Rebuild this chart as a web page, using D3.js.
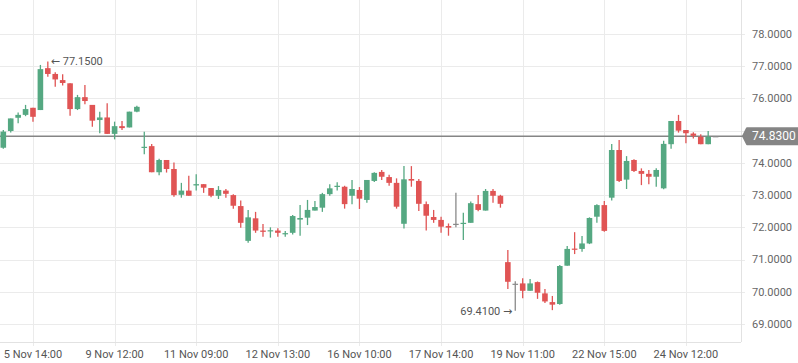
<!DOCTYPE html>
<html>
<head>
<meta charset="utf-8">
<script src="https://cdn.jsdelivr.net/npm/d3@7"></script>
<style>
  body { margin: 0; background: #fff; }
  svg { display: block; font-family: Roboto, "Open Sans", sans-serif; }
</style>
</head>
<body>
<div id="chart"></div>
<script>
// OHLC, une bougie par index
var opens = [74.47, 74.99, 75.40, 75.49, 75.71, 75.64, 76.94, 76.76, 76.57, 76.47,
  75.67, 76.04, 75.80, 75.33, 75.41, 74.90, 75.14, 75.10, 75.59, 74.48,
  74.52, 73.71, 74.09, 73.81, 73.01, 73.14, 73.30, 73.34, 73.22, 72.98,
  73.14, 73.00, 72.66, 71.58, 72.28, 71.90, 71.88, 71.90, 71.79, 71.83,
  72.24, 72.30, 72.52, 72.61, 73.03, 73.27, 73.26, 72.98, 73.16, 72.85,
  73.44, 73.72, 73.56, 73.38, 72.11, 73.50, 73.44, 72.72, 72.32, 72.23,
  72.04, 72.11, 72.12, 72.14, 72.72, 72.52, 73.13, 72.98, 70.92, 70.25,
  70.26, 70.03, 70.30, 69.95, 69.68, 69.62, 70.81, 71.34, 71.33, 71.50,
  72.33, 72.69, 72.92, 74.40, 73.48, 74.09, 73.75, 73.66, 73.57, 73.21,
  74.58, 75.30, 75.02, 74.91, 74.81, 74.58, 74.83]
var highs = [75.02, 75.38, 75.56, 75.80, 75.71, 77.04, 77.15, 76.81, 76.75, 76.47,
  76.11, 76.42, 75.80, 75.59, 75.85, 75.28, 75.30, 75.59, 75.77, 74.97,
  74.59, 74.13, 74.09, 74.01, 73.38, 73.60, 73.65, 73.34, 73.22, 73.28,
  73.19, 73.03, 72.83, 72.54, 72.48, 72.10, 72.00, 71.97, 71.89, 72.38,
  72.69, 72.85, 72.82, 73.07, 73.34, 73.40, 73.29, 73.47, 73.25, 73.47,
  73.71, 73.78, 73.63, 73.52, 73.90, 73.90, 73.50, 72.80, 72.54, 72.33,
  72.12, 73.07, 72.45, 72.80, 73.00, 73.19, 73.19, 73.01, 71.30, 70.33,
  70.42, 70.40, 70.32, 70.09, 69.87, 70.83, 71.42, 71.85, 71.73, 72.31,
  72.72, 72.82, 74.59, 74.71, 74.21, 74.11, 73.83, 73.78, 73.83, 74.69,
  75.30, 75.49, 75.02, 74.95, 74.89, 74.99, 74.83]
var lows = [74.44, 74.94, 75.23, 75.45, 75.28, 75.64, 76.67, 76.36, 76.40, 75.46,
  75.64, 75.82, 75.12, 74.92, 74.90, 74.73, 75.02, 75.10, 75.57, 74.27,
  73.71, 73.62, 73.70, 72.95, 72.92, 72.98, 73.14, 73.07, 72.93, 72.88,
  72.92, 72.58, 71.99, 71.52, 71.83, 71.71, 71.68, 71.71, 71.71, 71.78,
  71.74, 72.07, 72.52, 72.48, 72.98, 73.14, 72.58, 72.72, 72.57, 72.76,
  73.41, 73.47, 73.29, 72.58, 71.96, 73.26, 72.51, 71.90, 72.14, 71.83,
  71.74, 72.00, 71.61, 72.14, 72.50, 72.52, 72.76, 72.61, 70.09, 69.41,
  69.80, 70.03, 69.78, 69.65, 69.43, 69.60, 70.81, 71.17, 71.24, 71.48,
  72.14, 71.86, 72.83, 73.41, 73.19, 73.72, 73.31, 73.34, 73.26, 73.18,
  74.44, 74.94, 74.61, 74.76, 74.58, 74.58, 74.83]
var closes = [74.97, 75.38, 75.49, 75.67, 75.43, 76.91, 76.76, 76.59, 76.48, 75.67,
  76.04, 75.92, 75.31, 75.41, 74.90, 75.14, 75.08, 75.59, 75.74, 74.50,
  73.71, 74.09, 73.81, 73.00, 73.14, 72.98, 73.34, 73.23, 72.98, 73.16,
  73.04, 72.67, 72.14, 72.31, 71.90, 71.86, 71.91, 71.83, 71.82, 72.35,
  72.29, 72.54, 72.63, 73.03, 73.21, 73.29, 72.72, 73.19, 72.89, 73.47,
  73.69, 73.57, 73.38, 72.64, 73.49, 73.45, 72.73, 72.36, 72.23, 72.02,
  71.99, 72.11, 72.14, 72.75, 72.54, 73.13, 72.98, 72.73, 70.31, 70.25,
  70.03, 70.26, 69.97, 69.70, 69.60, 70.80, 71.33, 71.31, 71.50, 72.29,
  72.69, 71.89, 74.40, 73.44, 74.06, 73.75, 73.66, 73.57, 73.78, 74.59,
  75.30, 75.00, 74.92, 74.84, 74.58, 74.81, 74.83]

var tickIndex = [4, 15, 26, 37, 48, 59, 70, 81, 92]
var tickLabels = ['5 Nov 14:00', '9 Nov 12:00', '11 Nov 09:00', '12 Nov 13:00',
  '16 Nov 10:00', '17 Nov 14:00', '19 Nov 11:00', '22 Nov 15:00', '24 Nov 12:00']
var yTicks = [69, 70, 71, 72, 73, 74, 75, 76, 77, 78]
var lastPrice = 74.83
var maxPrice = 77.15, maxIndex = 6
var minPrice = 69.41, minIndex = 69

var width = 798
var height = 363
var plotRight = 741
var plotBottom = 342

var green = '#55a882'
var red = '#e05454'
var grey = '#8a8a8a'

var svg = d3.select('#chart').append('svg')
    .attr('width', width)
    .attr('height', height)

var x = d3.scaleLinear().domain([0, opens.length - 1]).range([3.3, 715.6])
var y = d3.scaleLinear().domain([69, 78]).range([324, 34])

// grille horizontale
svg.append('g').selectAll('line')
    .data(yTicks)
    .enter().append('line')
    .attr('x1', 0).attr('x2', plotRight + 4)
    .attr('y1', function (d) { return Math.round(y(d)) + 0.5 })
    .attr('y2', function (d) { return Math.round(y(d)) + 0.5 })
    .attr('stroke', '#ebebeb')

// grille verticale
svg.append('g').selectAll('line')
    .data(tickIndex)
    .enter().append('line')
    .attr('x1', function (d) { return Math.round(x(d)) + 0.5 })
    .attr('x2', function (d) { return Math.round(x(d)) + 0.5 })
    .attr('y1', 0).attr('y2', plotBottom + 4)
    .attr('stroke', '#ebebeb')

// bordures
svg.append('line')
    .attr('x1', plotRight + 0.5).attr('x2', plotRight + 0.5)
    .attr('y1', 0).attr('y2', plotBottom)
    .attr('stroke', '#e2e2e2')
svg.append('line')
    .attr('x1', 0).attr('x2', plotRight)
    .attr('y1', plotBottom + 0.5).attr('y2', plotBottom + 0.5)
    .attr('stroke', '#e2e2e2')

// labels axe y (celui qui passe sous l'étiquette du prix est masqué par elle)
svg.append('g').selectAll('text')
    .data(yTicks.filter(function (d) { return Math.abs(y(d) - y(lastPrice)) > 12 }))
    .enter().append('text')
    .attr('x', 752)
    .attr('y', function (d) { return y(d) })
    .attr('dy', '0.35em')
    .attr('font-size', 11)
    .attr('fill', '#666')
    .text(function (d) { return d.toFixed(4) })

// labels axe x
svg.append('g').selectAll('text')
    .data(tickIndex)
    .enter().append('text')
    .attr('x', function (d) { return x(d) })
    .attr('y', 354)
    .attr('dy', '0.35em')
    .attr('text-anchor', 'middle')
    .attr('font-size', 11)
    .attr('fill', '#555')
    .text(function (d, i) { return tickLabels[i] })

// ligne du dernier prix
svg.append('line')
    .attr('x1', 0).attr('x2', plotRight + 3)
    .attr('y1', y(lastPrice)).attr('y2', y(lastPrice))
    .attr('stroke', '#858585')
    .attr('stroke-width', 1.5)

function color(i) {
    if (closes[i] > opens[i]) return green
    if (closes[i] < opens[i]) return red
    return grey
}

var candles = svg.append('g').selectAll('g')
    .data(opens)
    .enter().append('g')

candles.append('line')
    .attr('x1', function (d, i) { return x(i) })
    .attr('x2', function (d, i) { return x(i) })
    .attr('y1', function (d, i) { return y(highs[i]) })
    .attr('y2', function (d, i) { return y(lows[i]) })
    .attr('stroke', function (d, i) { return color(i) })
    .attr('stroke-width', 1.3)

candles.append('rect')
    .attr('x', function (d, i) { return x(i) - 2.8 })
    .attr('width', 5.6)
    .attr('y', function (d, i) { return y(Math.max(opens[i], closes[i])) })
    .attr('height', function (d, i) {
        return Math.max(1.2, Math.abs(y(opens[i]) - y(closes[i])))
    })
    .attr('fill', function (d, i) { return color(i) })

// annotations max / min
var maxLabel = svg.append('text')
    .attr('x', x(maxIndex) + 3)
    .attr('y', y(maxPrice))
    .attr('dy', '0.35em')
    .attr('font-size', 11)
    .attr('fill', '#555')
maxLabel.append('tspan').attr('font-family', 'DejaVu Sans').text('\u2190')
maxLabel.append('tspan').text(' ' + maxPrice.toFixed(4))

var minLabel = svg.append('text')
    .attr('x', x(minIndex) - 3)
    .attr('y', y(minPrice))
    .attr('dy', '0.35em')
    .attr('text-anchor', 'end')
    .attr('font-size', 11)
    .attr('fill', '#555')
minLabel.append('tspan').text(minPrice.toFixed(4) + ' ')
minLabel.append('tspan').attr('font-family', 'DejaVu Sans').text('\u2192')

// étiquette du dernier prix
var tag = svg.append('g')
    .attr('transform', 'translate(743,' + y(lastPrice) + ')')
tag.append('path')
    .attr('d', 'M0,0 L4,-8 H62 V8 H4 Z')
    .attr('fill', '#858585')
    .attr('stroke', '#858585')
    .attr('stroke-linejoin', 'round')
    .attr('stroke-width', 2)
tag.append('text')
    .attr('x', 9)
    .attr('dy', '0.36em')
    .attr('font-size', 12)
    .attr('fill', '#fff')
    .text(lastPrice.toFixed(4))
</script>
</body>
</html>
